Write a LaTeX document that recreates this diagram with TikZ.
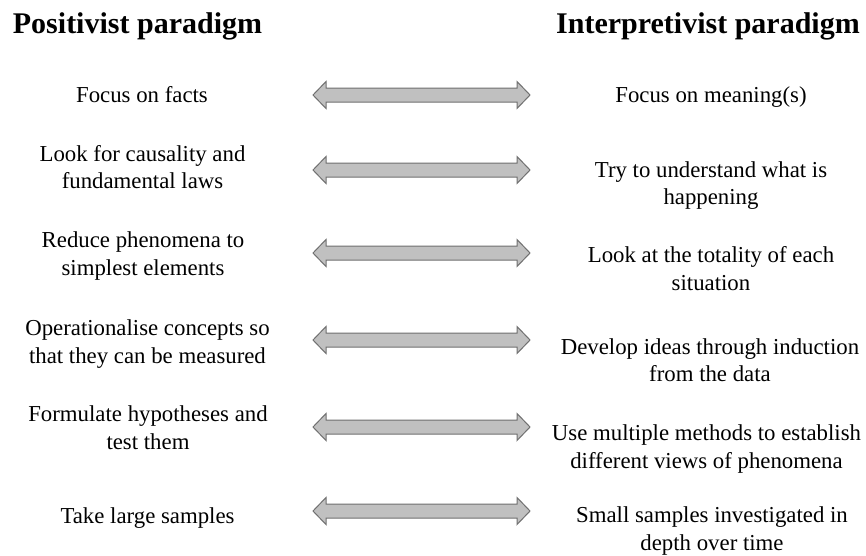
\documentclass[tikz,border=0pt]{standalone}
\usepackage{fontspec}
\setmainfont{Liberation Serif}
\definecolor{arrowfill}{RGB}{192,192,192}
\definecolor{arrowline}{RGB}{112,112,112}
\begin{document}
\begin{tikzpicture}[x=1pt, y=-1pt,
  heading/.style={anchor=base, inner sep=0pt, font=\fontsize{30}{36}\selectfont\bfseries},
  % positions below give the baseline of the last line of each statement
  item/.style={anchor=base, inner sep=0pt, align=center, font=\fontsize{22.8}{27.2}\selectfont},
  arrowshape/.style={fill=arrowfill, draw=arrowline, line width=1pt, line join=miter},
  dblarrow/.pic={
    \path[arrowshape] (-108.5,0) -- (-95.5,-13.5) -- (-95.5,-7) -- (95.5,-7)
      -- (95.5,-13.5) -- (108.5,0) -- (95.5,13.5) -- (95.5,7) -- (-95.5,7)
      -- (-95.5,13.5) -- cycle;
  }]
  \useasboundingbox[fill=white] (0,0) rectangle (866,555);

  % column headings
  \node[heading] (tl) at (137.5,33) {Positivist paradigm};
  \node[heading] (tr) at (708,33) {Interpretivist paradigm};

  % positivist statements
  \node[item] (l1) at (142,102)   {Focus on facts};
  \node[item] (l2) at (142.5,188.5) {Look for causality and\\fundamental laws};
  \node[item] (l3) at (143,275)   {Reduce phenomena to\\simplest elements};
  \node[item] (l4) at (147.5,363) {Operationalise concepts so\\that they can be measured};
  \node[item] (l5) at (148,449)   {Formulate hypotheses and\\test them};
  \node[item] (l6) at (147.5,523) {Take large samples};

  % interpretivist statements
  \node[item] (r1) at (711,102)   {Focus on meaning(s)};
  \node[item] (r2) at (711,204.5) {Try to understand what is\\happening};
  \node[item] (r3) at (711,290)   {Look at the totality of each\\situation};
  \node[item] (r4) at (710,381.5) {Develop ideas through induction\\from the data};
  \node[item] (r5) at (706.5,468) {Use multiple methods to establish\\different views of phenomena};
  \node[item] (r6) at (712,550)   {Small samples investigated in\\depth over time};

  % two-headed arrows between the columns
  \pic (a1) at (421.5,95)  {dblarrow};
  \pic (a2) at (421.5,170) {dblarrow};
  \pic (a3) at (421.5,253) {dblarrow};
  \pic (a4) at (421.5,340) {dblarrow};
  \pic (a5) at (421.5,427) {dblarrow};
  \pic (a6) at (421.5,511) {dblarrow};
\end{tikzpicture}
\end{document}
